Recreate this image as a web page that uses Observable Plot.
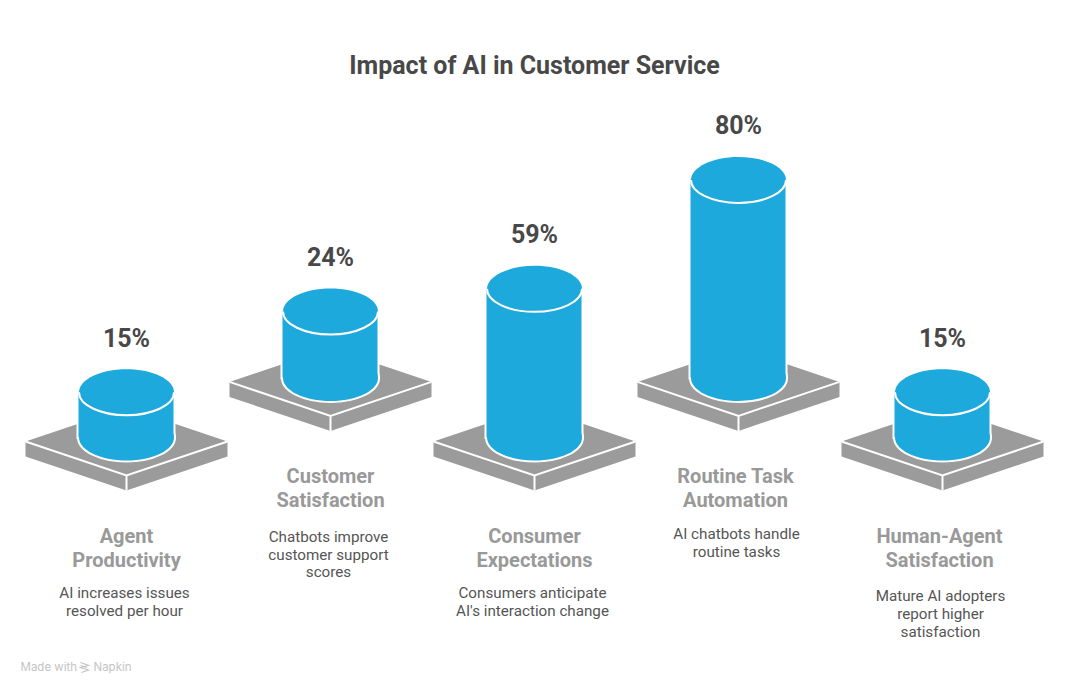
<!doctype html>
<html><head><meta charset="utf-8">
<script src="https://cdn.jsdelivr.net/npm/d3@7"></script>
<script src="https://cdn.jsdelivr.net/npm/@observablehq/plot@0.6"></script>
<style>html,body{margin:0;padding:0;background:#fff}svg{display:block}</style>
</head><body><div id="chart"></div>
<script>
const title = "Impact of AI in Customer Service";
const categories = ["Agent\nProductivity","Customer\nSatisfaction","Consumer\nExpectations","Routine Task\nAutomation","Human-Agent\nSatisfaction"];
const values = [15,24,59,80,15];
const notes = ["AI increases issues\nresolved per hour","Chatbots improve\ncustomer support\nscores","Consumers anticipate\nAI's interaction change","AI chatbots handle\nroutine tasks","Mature AI adopters\nreport higher\nsatisfaction"];
const raised = [false,true,false,true,false];

// layout
const W = 1068, H = 692;
const PX_PER_UNIT = 2.35, ZERO_PX = 427, RAISE = 59.6 / PX_PER_UNIT, STEM = 10 / PX_PER_UNIT;
const BLUE = "#1ea9dc", GREY = "#9b9b9b", INK = "#484848", MUTED = "#999999", NOTE = "#555555";
const RX = 47.5, RY = 23, INSET = 54.5;

const rows = categories.map((c,i)=>({
  name:c, value:values[i], note:notes[i], index:i,
  base: raised[i] ? RAISE : 0,
  top: (raised[i] ? RAISE : 0) + values[i],
  foot: (raised[i] ? RAISE : 0) - STEM,
  lines: notes[i].split("\n").length
}));

const K = 0.5523;
const ellipse = {draw(c){
  c.moveTo(-RX,0);
  c.bezierCurveTo(-RX,-K*RY,-K*RX,-RY,0,-RY);
  c.bezierCurveTo(K*RX,-RY,RX,-K*RY,RX,0);
  c.bezierCurveTo(RX,K*RY,K*RX,RY,0,RY);
  c.bezierCurveTo(-K*RX,RY,-RX,K*RY,-RX,0);
  c.closePath();
}};
const lowerArc = {draw(c){
  c.moveTo(RX,0);
  c.bezierCurveTo(RX,K*RY,K*RX,RY,0,RY);
  c.bezierCurveTo(-K*RX,RY,-RX,K*RY,-RX,0);
}};
const slab = {draw(c){ // relative to the slab's centre
  c.moveTo(0,-34);c.lineTo(101,0);c.lineTo(101,15);c.lineTo(0,49);c.lineTo(-101,15);c.lineTo(-101,0);c.closePath();
}};
const slabEdge = {draw(c){
  c.moveTo(-101,0);c.lineTo(0,34);c.lineTo(101,0);
  c.moveTo(0,34);c.lineTo(0,49);
}};
const napkin = {draw(c){
  c.moveTo(-4,-5);c.lineTo(4,-2);c.lineTo(-4,0);c.lineTo(4,2.5);c.lineTo(-3,5);
  c.moveTo(-4,-2);c.lineTo(2,0);
}};

const y0 = -(H-ZERO_PX)/PX_PER_UNIT, y1 = ZERO_PX/PX_PER_UNIT;
const chart = Plot.plot({
  width:W, height:H, margin:0,
  style:{fontFamily:"Roboto, sans-serif", background:"#fff"},
  x:{type:"band", domain:categories, range:[24,1044], padding:0, round:false, axis:null},
  y:{domain:[y0,y1], range:[H,0], axis:null},
  marks:[
    Plot.dot(rows,{x:"name",y:"base",dy:14,symbol:slab,fill:GREY,stroke:"none"}),
    Plot.dot(rows,{x:"name",y:"base",dy:14,symbol:slabEdge,fill:"none",stroke:"#fff",strokeWidth:2}),
    // white halo round the cylinder
    Plot.barY(rows,{x:"name",y1:"foot",y2:"top",insetLeft:INSET,insetRight:INSET,fill:"#fff",stroke:"#fff",strokeWidth:4}),
    Plot.dot(rows,{x:"name",y:"foot",symbol:ellipse,fill:"#fff",stroke:"#fff",strokeWidth:4}),
    // cylinder
    Plot.barY(rows,{x:"name",y1:"foot",y2:"top",insetLeft:INSET,insetRight:INSET,fill:BLUE}),
    Plot.dot(rows,{x:"name",y:"foot",symbol:ellipse,fill:BLUE,stroke:"none"}),
    Plot.dot(rows,{x:"name",y:"top",symbol:ellipse,fill:BLUE,stroke:"none"}),
    Plot.dot(rows,{x:"name",y:"top",symbol:lowerArc,fill:"none",stroke:"#fff",strokeWidth:2}),
    // value labels
    Plot.text(rows,{x:"name",y:"top",dy:-53.5,text:d=>d.value+"%",fontSize:25,fontWeight:700,fill:INK}),
    // category labels
    Plot.text(rows.filter(d=>d.index<3),{x:"name",y:"base",dy:98,lineAnchor:"top",lineHeight:1.2,text:"name",fontSize:20,fontWeight:700,fill:MUTED}),
    Plot.text(rows.filter(d=>d.index>=3),{x:"name",y:"base",dx:-3,dy:98,lineAnchor:"top",lineHeight:1.2,text:"name",fontSize:20,fontWeight:700,fill:MUTED}),
    // descriptions
    Plot.text(rows.filter(d=>d.lines===2),{x:"name",y:"base",dx:-2,dy:158,lineAnchor:"top",lineHeight:1.18,text:"note",fontSize:15.2,fill:NOTE}),
    Plot.text(rows.filter(d=>d.lines===3),{x:"name",y:"base",dx:-2,dy:161,lineAnchor:"top",lineHeight:1.18,text:"note",fontSize:15.2,fill:NOTE}),
    // title and footer
    Plot.text([title],{frameAnchor:"top",dy:65,text:d=>d,fontSize:25,fontWeight:700,fill:INK,lineAnchor:"middle"}),
    Plot.text(["Made with"],{frameAnchor:"bottom-left",dx:20,dy:-25,text:d=>d,fontSize:11.5,fill:"#c4c4c4",fontFamily:"Inter, sans-serif",textAnchor:"start",lineAnchor:"middle"}),
    Plot.dot([0],{frameAnchor:"bottom-left",dx:84,dy:-25,symbol:napkin,fill:"none",stroke:"#c4c4c4",strokeWidth:1.2}),
    Plot.text(["Napkin"],{frameAnchor:"bottom-left",dx:93,dy:-25,text:d=>d,fontSize:11.5,fill:"#c4c4c4",fontFamily:"Inter, sans-serif",textAnchor:"start",lineAnchor:"middle"})
  ]
});
document.getElementById("chart").append(chart);
</script></body></html>
